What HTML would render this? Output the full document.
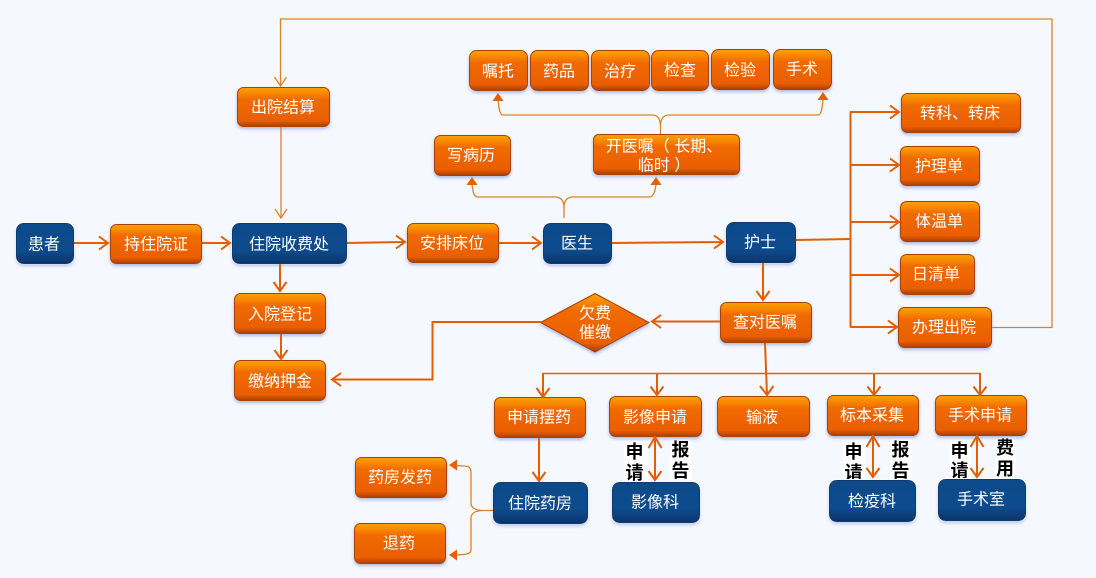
<!DOCTYPE html>
<html><head><meta charset="utf-8"><style>
html,body{margin:0;padding:0;background:#f6f8ff;width:1096px;height:578px;overflow:hidden}
svg{display:block}
text{font-family:"Liberation Sans","Noto Sans CJK SC",sans-serif;font-size:16px;fill:#fff;text-anchor:middle;dominant-baseline:central}
.b{font-size:18px;font-weight:bold;fill:#000}
.o rect,.o polygon{fill:url(#og);stroke:#a84200;stroke-width:1}
.u rect{fill:url(#bg);stroke:#0a3a70;stroke-width:1}
.o{filter:url(#sh)}
.u{filter:url(#sw)}
.a{fill:none;stroke:#e25e00;stroke-width:2}
.t{fill:none;stroke:#d98424;stroke-width:1.3}
.f{fill:#e85f00}
</style></head><body>
<svg width="1096" height="578" viewBox="0 0 1096 578" xmlns="http://www.w3.org/2000/svg">
<defs>
<linearGradient id="og" x1="0" y1="0" x2="0" y2="1"><stop offset="0" stop-color="#f7a300"/><stop offset=".14" stop-color="#f98a00"/><stop offset=".3" stop-color="#f06a00"/><stop offset=".85" stop-color="#ea5e00"/><stop offset="1" stop-color="#a84000"/></linearGradient>
<linearGradient id="bg" x1="0" y1="0" x2="0" y2="1"><stop offset="0" stop-color="#0d4a8a"/><stop offset=".65" stop-color="#0b4c8e"/><stop offset="1" stop-color="#06346c"/></linearGradient>
<filter id="sh" x="-15%" y="-15%" width="130%" height="140%"><feDropShadow dx="0" dy="2" stdDeviation="1.6" flood-color="#8aa0d8" flood-opacity=".7"/></filter>
<filter id="sw" x="-15%" y="-20%" width="130%" height="150%"><feDropShadow dx="0" dy="2" stdDeviation="1.6" flood-color="#8aa0d8" flood-opacity=".6" result="s"/><feMorphology in="SourceAlpha" operator="dilate" radius="1" result="d"/><feFlood flood-color="#ffffff"/><feComposite in2="d" operator="in" result="w"/><feMerge><feMergeNode in="w"/><feMergeNode in="s"/></feMerge></filter>
</defs>
<rect width="1096" height="578" fill="#f6f8ff"/>

<!-- black labels with halo -->
<g fill="#fff">
<rect x="624" y="441" width="24" height="41"/><rect x="670" y="439" width="22" height="41"/>
<rect x="843" y="440" width="22" height="41"/><rect x="890" y="439" width="22" height="41"/>
<rect x="950" y="440" width="21" height="40"/><rect x="995" y="437" width="21" height="41"/>
</g>
<text class="b" x="634.500" y="452">申</text><text class="b" x="634.500" y="473">请</text>
<text class="b" x="680.500" y="450">报</text><text class="b" x="680.500" y="471">告</text>
<text class="b" x="853.500" y="452">申</text><text class="b" x="853.500" y="473">请</text>
<text class="b" x="900.500" y="450">报</text><text class="b" x="900.500" y="471">告</text>
<text class="b" x="959.500" y="451">申</text><text class="b" x="959.500" y="471">请</text>
<text class="b" x="1005" y="448">费</text><text class="b" x="1005" y="469">用</text>

<!-- orange nodes -->
<g class="o"><rect x="110.500" y="224.500" width="91" height="39" rx="6"/></g><text x="156" y="245">持住院证</text>
<g class="o"><rect x="234.500" y="293.500" width="91" height="40" rx="6"/></g><text x="280" y="315">入院登记</text>
<g class="o"><rect x="234.500" y="360.500" width="91" height="40" rx="6"/></g><text x="280" y="382">缴纳押金</text>
<g class="o"><rect x="237.500" y="87.500" width="92" height="39" rx="6"/></g><text x="283" y="108">出院结算</text>
<g class="o"><rect x="407.500" y="223.500" width="91" height="39" rx="6"/></g><text x="452" y="244">安排床位</text>
<g class="o"><rect x="434.500" y="135.500" width="76" height="40" rx="6"/></g><text x="471" y="156">写病历</text>
<g class="o"><rect x="593.500" y="134.500" width="146" height="40" rx="5"/></g><text x="664" y="147">开医嘱（ 长期、</text><text x="664" y="166">临时 ）</text>
<g class="o"><rect x="469.500" y="50.500" width="58" height="40" rx="7"/></g><text x="498" y="72">嘱托</text>
<g class="o"><rect x="530.500" y="50.500" width="58" height="40" rx="7"/></g><text x="559" y="72">药品</text>
<g class="o"><rect x="591.500" y="50.500" width="58" height="40" rx="7"/></g><text x="620" y="72">治疗</text>
<g class="o"><rect x="651.500" y="50.500" width="57" height="40" rx="7"/></g><text x="680" y="71">检查</text>
<g class="o"><rect x="711.500" y="49.500" width="58" height="40" rx="7"/></g><text x="740" y="71">检验</text>
<g class="o"><rect x="773.500" y="49.500" width="58" height="40" rx="7"/></g><text x="802" y="70">手术</text>
<g class="o"><rect x="901.500" y="93.500" width="119" height="39" rx="6"/></g><text x="960" y="114">转科、转床</text>
<g class="o"><rect x="900.500" y="146.500" width="79" height="39" rx="6"/></g><text x="939" y="167">护理单</text>
<g class="o"><rect x="900.500" y="201.500" width="79" height="40" rx="6"/></g><text x="939" y="222">体温单</text>
<g class="o"><rect x="900.500" y="254.500" width="74" height="40" rx="6"/></g><text x="936" y="275">日清单</text>
<g class="o"><rect x="898.500" y="307.500" width="93" height="40" rx="6"/></g><text x="944" y="328">办理出院</text>
<g class="o"><rect x="720.500" y="302.500" width="91" height="40" rx="6"/></g><text x="765" y="323">查对医嘱</text>
<g class="o"><polygon points="540.500,322.500 595,293.500 649,322.500 595,352"/></g>
<text x="595" y="314">欠费</text><text x="595" y="333">催缴</text>
<g class="o"><rect x="494.500" y="397.500" width="91" height="40" rx="6"/></g><text x="539" y="418">申请摆药</text>
<g class="o"><rect x="609.500" y="396.500" width="92" height="40" rx="6"/></g><text x="655" y="418">影像申请</text>
<g class="o"><rect x="717.500" y="396.500" width="92" height="40" rx="6"/></g><text x="762" y="418">输液</text>
<g class="o"><rect x="827.500" y="395.500" width="91" height="40" rx="6"/></g><text x="872" y="416">标本采集</text>
<g class="o"><rect x="935.500" y="395.500" width="91" height="40" rx="6"/></g><text x="980" y="416">手术申请</text>
<g class="o"><rect x="355.500" y="457.500" width="91" height="40" rx="6"/></g><text x="400" y="478">药房发药</text>
<g class="o"><rect x="354.500" y="523.500" width="91" height="40" rx="6"/></g><text x="399" y="544">退药</text>

<!-- blue nodes -->
<g class="u"><rect x="16.500" y="223.500" width="57" height="40" rx="7"/></g><text x="44" y="245">患者</text>
<g class="u"><rect x="232.500" y="223.500" width="114" height="40" rx="7"/></g><text x="289" y="245">住院收费处</text>
<g class="u"><rect x="543.500" y="223.500" width="68" height="40" rx="7"/></g><text x="577" y="244">医生</text>
<g class="u"><rect x="726.500" y="222.500" width="69" height="40" rx="7"/></g><text x="760" y="243">护士</text>
<g class="u"><rect x="493.500" y="482.500" width="94" height="41" rx="7"/></g><text x="540" y="504">住院药房</text>
<g class="u"><rect x="612.500" y="482.500" width="87" height="40" rx="7"/></g><text x="655" y="503">影像科</text>
<g class="u"><rect x="829.500" y="480.500" width="86" height="41" rx="7"/></g><text x="872" y="502">检疫科</text>
<g class="u"><rect x="938.500" y="479.500" width="87" height="41" rx="7"/></g><text x="981" y="500">手术室</text>

<!-- thin connectors -->
<path class="t" d="M992 327.500H1052V19H280.500V86M274.500 77L280.500 86L286.500 77"/>
<path class="t" d="M281 127V218M275 209L281 218L287 209"/>
<path class="t" d="M564 218V208C564 201 561 197 555 197H478C474 197 473 193 472 184M564 218V208C564 201 567 197 573 197H649C653 197 655 193 656 184"/>
<path class="t" d="M660.500 134V127C660.500 119 658 115 652 115H503C500 115 499 110 498 100M660.500 134V127C660.500 119 663 115 669 115H818C821 115 822 110 823 100"/>
<path class="t" d="M493 510.500H483C476 510.500 471 508 471 503V472C471 468 469 466 464 466L454 465.500M483 510.500C476 510.500 471 513 471 518V550C471 553 468 554 464 554.500L454 555"/>
<path class="f" d="M498 93L492.500 101H503.500ZM823 92L817.500 100H828.500ZM472 177L466.500 185H477.500ZM656 177L650.500 185H661.500ZM449 465L457 459.500V470.500ZM449 555L457 549.500V560.500Z"/>

<!-- arrows -->
<g class="a">
<path d="M74 243H108M99 236.500L108 243L99 249.500"/>
<path d="M202 243H230M221 236.500L230 243L221 249.500"/>
<path d="M347 243L405 242M396 235.500L405 242L396 248.500"/>
<path d="M499 243H541M532 236.500L541 243L532 249.500"/>
<path d="M612 243L723 242M714 235.500L723 242L714 248.500"/>
<path d="M796 240L851 239"/>
<path d="M850.500 112V327"/>
<path d="M850 112H899M890 105.500L899 112L890 118.500"/>
<path d="M850 165H899M890 158.500L899 165L890 171.500"/>
<path d="M850 222H899M890 215.500L899 222L890 228.500"/>
<path d="M850 275H899M890 268.500L899 275L890 281.500"/>
<path d="M850 327H897M888 320.500L897 327L888 333.500"/>
<path d="M280 264V291M273.500 282L280 291L286.500 282"/>
<path d="M281 334V359M274.500 350L281 359L287.500 350"/>
<path d="M763 263V300M756.500 291L763 300L769.500 291"/>
<path d="M720 321.500H652M661 315L652 321.500L661 328"/>
<path d="M541 322H432.500V379.500H332M341 373L332 379.500L341 386"/>
<path d="M765 343L767 395M760 386L767 395L773.500 386"/>
<path d="M543 373.500H980" stroke-width="1.500"/>
<path d="M543 373V396M536.500 388L543 397L549.500 388"/>
<path d="M657 373V395M650.500 386.500L657 395L663.500 386.500"/>
<path d="M874 373V395M867.500 386.500L874 395L880.500 386.500"/>
<path d="M980 373V395M973.500 386.500L980 395L986.500 386.500"/>
<path d="M539 438V481M532.500 472L539 481L545.500 472"/>
<path d="M655 439V480M648.500 448L655 437L661.500 448M648.500 471L655 480L661.500 471"/>
<path d="M873 438V477M866.500 447L873 436L879.500 447M866.500 468L873 477L879.500 468"/>
<path d="M977 438V477M970.500 447L977 436L983.500 447M970.500 468L977 477L983.500 468"/>
</g>
</svg>
</body></html>
